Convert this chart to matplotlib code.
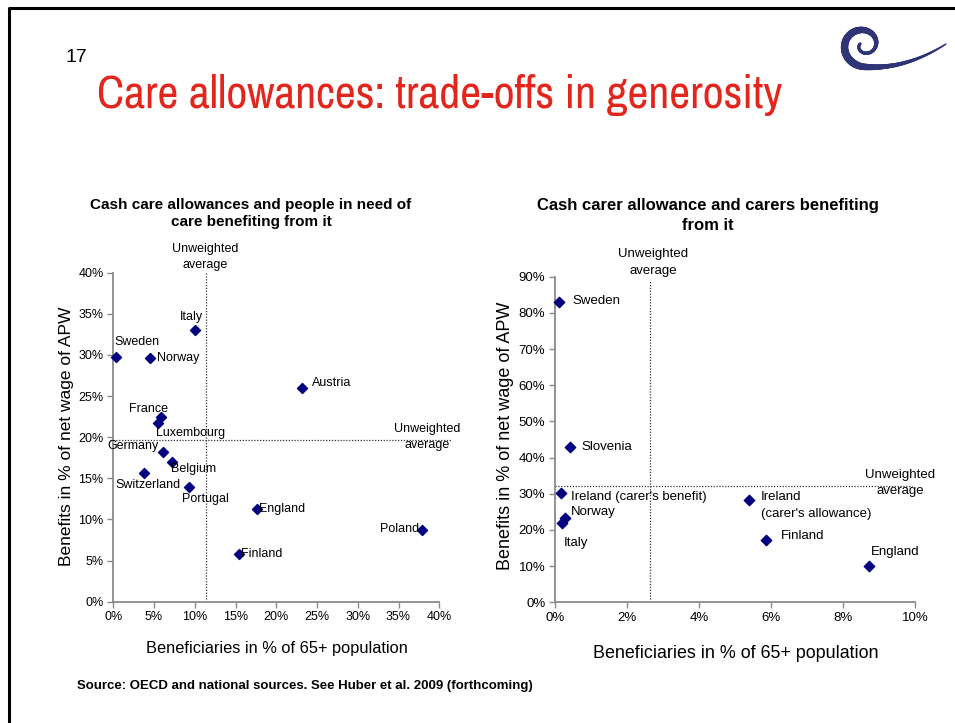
import numpy as np
import matplotlib
matplotlib.use("Agg")
import matplotlib.pyplot as plt
from matplotlib.collections import LineCollection
from matplotlib.ticker import FuncFormatter
from matplotlib import font_manager

plt.rcParams['font.family'] = ['Liberation Sans', 'DejaVu Sans']

# ---------------- data ----------------
left_countries = ["Sweden", "Norway", "Italy", "Austria", "France", "Luxembourg",
                  "Germany", "Belgium", "Switzerland", "Portugal", "England",
                  "Finland", "Poland"]
left_beneficiaries = [0.3, 4.5, 10.0, 23.2, 5.9, 5.45, 6.1, 7.2, 3.8, 9.25, 17.6, 15.45, 37.85]
left_benefits = [29.8, 29.6, 33.0, 26.0, 22.5, 21.7, 18.2, 17.0, 15.7, 13.95, 11.3, 5.8, 8.7]
left_avg_x = 11.4
left_avg_y = 19.7

right_countries = ["Sweden", "Slovenia", "Ireland (carer's benefit)", "Norway", "Italy",
                   "Ireland\n(carer's allowance)", "Finland", "England"]
right_beneficiaries = [0.10, 0.42, 0.17, 0.28, 0.20, 5.40, 5.85, 8.73]
right_benefits = [83.0, 43.0, 30.1, 23.2, 22.0, 28.3, 17.2, 10.0]
right_avg_x = 2.63
right_avg_y = 32.1

left_xticks = [0, 5, 10, 15, 20, 25, 30, 35, 40]
left_yticks = [0, 5, 10, 15, 20, 25, 30, 35, 40]
right_xticks = [0, 2, 4, 6, 8, 10]
right_yticks = [0, 10, 20, 30, 40, 50, 60, 70, 80, 90]

# label offsets (pixels: dx, dy up, ha)
left_offsets = [(-1, 14.3, 'left'), (7, 0, 'left'), (-3, 13.7, 'center'), (10, 5, 'left'),
                (-12.7, 7.7, 'center'), (-1.7, -10, 'left'), (-4, 5.6, 'right'),
                (-1, -7.3, 'left'), (-28.7, -12, 'left'), (-6.7, -12, 'left'),
                (2.3, -0.6, 'left'), (2, -0.4, 'left'), (-3, 1, 'right')]
right_offsets = [(14, 1.3, 'left'), (11.7, 0, 'left'), (10, -3.4, 'left'), (5.7, 6.6, 'left'),
                 (1.7, -20.6, 'left'), (11.7, -5.5, 'left'), (15.3, 4.3, 'left'),
                 (1.7, 14.3, 'left')]

# pick a narrow font for the slide title if one is installed
names = sorted({f.name for f in font_manager.fontManager.ttflist})
narrow = None
for cand in ['Liberation Sans Narrow', 'Arial Narrow', 'Arimo Narrow', 'Archivo Narrow',
             'PT Sans Narrow', 'DejaVu Sans Condensed', 'Roboto Condensed', 'Open Sans Condensed']:
    if cand in names:
        narrow = cand
        break
if narrow is None:
    others = [n for n in names if 'Narrow' in n or 'Condensed' in n]
    narrow = others[0] if others else None

W, H = 955, 723
fig = plt.figure(figsize=(W / 100, H / 100), dpi=100)

bg = fig.add_axes([0, 0, 1, 1], zorder=-5)
bg.set_xlim(0, W)
bg.set_ylim(H, 0)
bg.axis('off')
bg.plot([8.5, 8.5, W + 5], [H + 5, 8, 8], color='black', lw=2.2, solid_capstyle='butt')

# logo swirl
cx, cy = 864, 45
a = np.linspace(3.1 * np.pi, np.pi / 2, 160)
frac = (a[0] - a) / (a[0] - a[-1])
r = 4 + 19 * frac
xs = cx + 1.0 * r * np.cos(a)
ys = cy + 0.95 * r * np.sin(a)
t = np.linspace(0, 1, 80)[1:]
p0 = np.array([xs[-1], ys[-1]]); p1 = np.array([905, 70]); p2 = np.array([946, 44])
bx = (1 - t) ** 2 * p0[0] + 2 * (1 - t) * t * p1[0] + t ** 2 * p2[0]
by = (1 - t) ** 2 * p0[1] + 2 * (1 - t) * t * p1[1] + t ** 2 * p2[1]
X = np.concatenate([xs, bx]); Y = np.concatenate([ys, by])
pts = np.column_stack([X, Y]).reshape(-1, 1, 2)
segs = np.concatenate([pts[:-1], pts[1:]], axis=1)
n = len(segs)
u = np.linspace(0, 1, n)
widths = np.interp(u, [0, 0.25, 0.45, 0.62, 0.75, 1.0], [2.0, 2.5, 5.0, 5.5, 3.5, 1.0])
bg.add_collection(LineCollection(segs, linewidths=widths, colors='#2f3477', capstyle='round'))

# texts
fig.text(65 / W, 1 - 58 / H, "17", fontsize=14, ha='left', va='center', color='black')
if narrow:
    fig.text(97 / W, 1 - 95 / H, "Care allowances: trade-offs in generosity",
             fontsize=33, ha='left', va='center', color='#e3261b',
             family=[narrow, 'Liberation Sans'])
else:
    fig.text(97 / W, 1 - 95 / H, "Care allowances: trade-offs in generosity",
             fontsize=27.3, ha='left', va='center', color='#e3261b')
fig.text(77 / W, 1 - 686 / H, "Source: OECD and national sources. See Huber et al. 2009 (forthcoming)",
         fontsize=9.5, fontweight='bold', ha='left', va='center')

fig.text(251 / W, 1 - 213.5 / H, "Cash care allowances and people in need of\ncare benefiting from it",
         fontsize=11, fontweight='bold', ha='center', va='center', linespacing=1.35)
fig.text(708 / W, 1 - 215.5 / H, "Cash carer allowance and carers benefiting\nfrom it",
         fontsize=12, fontweight='bold', ha='center', va='center', linespacing=1.4)

pct = FuncFormatter(lambda v, p: f"{v:.0f}%")


def style_axes(ax, xticks, yticks, fs):
    for s in ('top', 'right'):
        ax.spines[s].set_visible(False)
    for s in ('left', 'bottom'):
        ax.spines[s].set_color('#8a8a8a')
        ax.spines[s].set_linewidth(1.3)
    ax.set_xticks(xticks)
    ax.set_yticks(yticks)
    ax.xaxis.set_major_formatter(pct)
    ax.yaxis.set_major_formatter(pct)
    ax.tick_params(direction='out', length=4, width=1, color='#8a8a8a', labelsize=fs, pad=3)
    ax.set_facecolor('none')


# ------------- left chart -------------
axL = fig.add_axes([113.3 / W, 1 - 601.7 / H, 326 / W, 329 / H])
axL.set_xlim(0, 40)
axL.set_ylim(0, 40)
style_axes(axL, left_xticks, left_yticks, 9)
axL.scatter(left_beneficiaries, left_benefits, marker='D', s=26, color='#000080', zorder=3, clip_on=False)
axL.plot([left_avg_x, left_avg_x], [0, 40], ls=(0, (1, 1.3)), color='#333333', lw=0.9, clip_on=False)
axL.plot([-0.4, 41.5], [left_avg_y, left_avg_y], ls=(0, (1, 1.3)), color='#333333', lw=0.9, clip_on=False)
for name, x, y, (dx, dy, ha) in zip(left_countries, left_beneficiaries, left_benefits, left_offsets):
    axL.annotate(name, (x, y), xytext=(dx, dy), textcoords='offset pixels',
                 ha=ha, va='center', fontsize=9, annotation_clip=False)
fig.text(205 / W, 1 - 257 / H, "Unweighted\naverage", fontsize=9, ha='center', va='center', linespacing=1.45)
fig.text(427 / W, 1 - 437 / H, "Unweighted\naverage", fontsize=9, ha='center', va='center', linespacing=1.45)
fig.text(276.5 / W, 1 - 649 / H, "Beneficiaries in % of 65+ population", fontsize=11.8,
         ha='center', va='center')
fig.text(67 / W, 1 - 436 / H, "Benefits in % of net wage of APW", fontsize=12.5,
         ha='center', va='center', rotation=90)

# ------------- right chart -------------
axR = fig.add_axes([555 / W, 1 - 602.3 / H, 360 / W, 325.6 / H])
axR.set_xlim(0, 10)
axR.set_ylim(0, 90)
style_axes(axR, right_xticks, right_yticks, 9.5)
axR.scatter(right_beneficiaries, right_benefits, marker='D', s=28, color='#000080', zorder=3, clip_on=False)
axR.plot([right_avg_x, right_avg_x], [0, 89], ls=(0, (1, 1.3)), color='#333333', lw=0.9, clip_on=False)
axR.plot([0, 9.93], [right_avg_y, right_avg_y], ls=(0, (1, 1.3)), color='#333333', lw=0.9, clip_on=False)
for name, x, y, (dx, dy, ha) in zip(right_countries, right_beneficiaries, right_benefits, right_offsets):
    axR.annotate(name, (x, y), xytext=(dx, dy), textcoords='offset pixels',
                 ha=ha, va='center', fontsize=9.5, annotation_clip=False, linespacing=1.55)
fig.text(653 / W, 1 - 262.5 / H, "Unweighted\naverage", fontsize=9.5, ha='center', va='center', linespacing=1.5)
fig.text(900 / W, 1 - 483 / H, "Unweighted\naverage", fontsize=9.5, ha='center', va='center', linespacing=1.5)
fig.text(736 / W, 1 - 653 / H, "Beneficiaries in % of 65+ population", fontsize=12.9,
         ha='center', va='center')
fig.text(505 / W, 1 - 436 / H, "Benefits in % of net wage of APW", fontsize=13,
         ha='center', va='center', rotation=90)

fig.savefig("out.png", dpi=100)
